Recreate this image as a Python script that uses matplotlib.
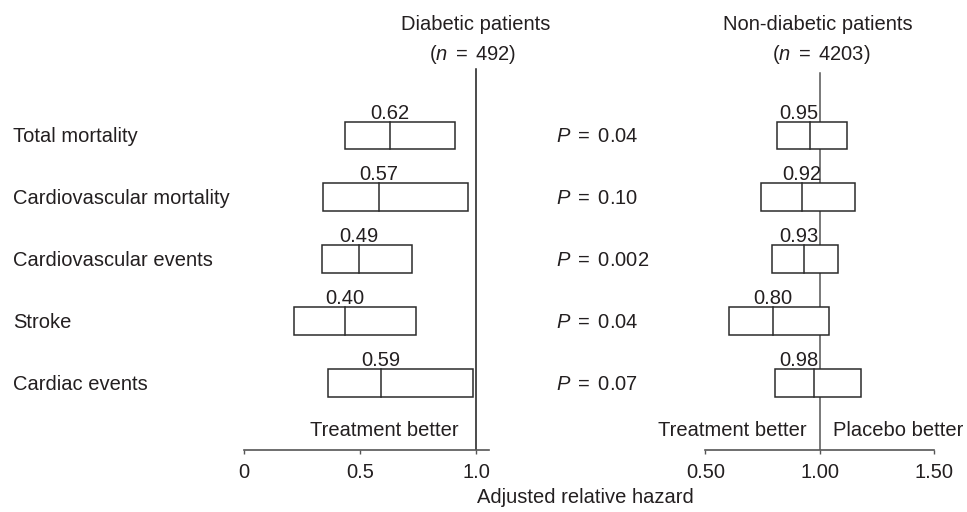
import matplotlib
matplotlib.use("Agg")
import matplotlib.pyplot as plt
from matplotlib.patches import Rectangle

outcomes = ["Total mortality", "Cardiovascular mortality", "Cardiovascular events",
            "Stroke", "Cardiac events"]
p_values = ["0.04", "0.10", "0.002", "0.04", "0.07"]

# diabetic patients (n = 492)
dia_label = ["0.62", "0.57", "0.49", "0.40", "0.59"]
dia_low = [0.435, 0.341, 0.337, 0.213, 0.361]
dia_mid = [0.630, 0.581, 0.494, 0.433, 0.590]
dia_high = [0.911, 0.967, 0.724, 0.742, 0.986]

# non-diabetic patients (n = 4203)
non_label = ["0.95", "0.92", "0.93", "0.80", "0.98"]
non_low = [0.815, 0.745, 0.791, 0.604, 0.804]
non_mid = [0.956, 0.921, 0.932, 0.797, 0.975]
non_high = [1.119, 1.153, 1.081, 1.043, 1.183]

plt.rcParams["font.family"] = ["Liberation Sans", "DejaVu Sans"]
plt.rcParams["mathtext.fontset"] = "custom"
plt.rcParams["mathtext.rm"] = "Liberation Sans"
plt.rcParams["mathtext.it"] = "Liberation Sans:italic"
plt.rcParams["font.size"] = 14.5

TXT = "#231f20"
BOX = "#2b2b2b"
AXC = "#555555"

W, H = 967, 512
fig = plt.figure(figsize=(W / 100, H / 100), dpi=100)


def px_box(x0, x1, y0, y1):
    return [x0 / W, 1 - y1 / H, (x1 - x0) / W, (y1 - y0) / H]


ax1 = fig.add_axes(px_box(244.3, 489.3, 60, 449.5))
ax2 = fig.add_axes(px_box(705.4, 933.8, 60, 449.5))
ax1.set_xlim(0, 1.0574)
ax2.set_xlim(0.5, 1.5)

bh = 0.443  # box height in row units
for ax in (ax1, ax2):
    ax.set_ylim(5.076, -1.216)
    ax.set_yticks([])
    for s in ("top", "left", "right"):
        ax.spines[s].set_visible(False)
    ax.spines["bottom"].set_color(AXC)
    ax.spines["bottom"].set_linewidth(1.2)
    ax.tick_params(axis="x", direction="out", length=3, width=1, color=AXC,
                   pad=7, labelsize=14.5, labelcolor=TXT)
    ax.patch.set_alpha(0)

ax1.set_xticks([0, 0.5, 1.0], ["0", "0.5", "1.0"])
ax2.set_xticks([0.5, 1.0, 1.5], ["0.50", "1.00", "1.50"])

ax1.axvline(1.0, ymin=0, ymax=(449.5 - 69) / 389.5, color="#1a1a1a", lw=1.1, zorder=1)
ax2.axvline(1.0, ymin=0, ymax=(449.5 - 73.3) / 389.5, color="#555555", lw=1.1, zorder=1)


def draw_boxes(ax, lows, mids, highs, labels, shift_near_one):
    for i, (lo, m, hi, lab) in enumerate(zip(lows, mids, highs, labels)):
        ax.add_patch(Rectangle((lo, i - bh / 2), hi - lo, bh, facecolor="white",
                               edgecolor=BOX, lw=1.1, zorder=3))
        ax.plot([m, m], [i - bh / 2, i + bh / 2], color=BOX, lw=1.1, zorder=4)
        if shift_near_one and m + 0.07 > 1.0:
            ax.annotate(lab, xy=(1.0, i - bh / 2), xytext=(-0.8, 2.2),
                        textcoords="offset points", ha="right", va="baseline",
                        color=TXT)
        else:
            ax.annotate(lab, xy=(m, i - bh / 2), xytext=(0, 2.2),
                        textcoords="offset points", ha="center", va="baseline",
                        color=TXT)


draw_boxes(ax1, dia_low, dia_mid, dia_high, dia_label, False)
draw_boxes(ax2, non_low, non_mid, non_high, non_label, True)

for i, (name, p) in enumerate(zip(outcomes, p_values)):
    ax1.annotate(name, xy=(13 / W, i), xycoords=("figure fraction", "data"),
                 xytext=(0, -5), textcoords="offset points", va="baseline",
                 ha="left", color=TXT, annotation_clip=False)
    ax1.annotate(rf"$P\,$ = $\,${p}", xy=(556 / W, i),
                 xycoords=("figure fraction", "data"),
                 xytext=(0, -5), textcoords="offset points", va="baseline",
                 ha="left", color=TXT, annotation_clip=False)

# direction hints above the axes
ax1.annotate("Treatment better", xy=(0.925, 0), xycoords=("data", "axes fraction"),
             xytext=(0, 9.7), textcoords="offset points", ha="right", va="baseline",
             color=TXT)
ax2.annotate("Treatment better", xy=(1.0, 0), xycoords=("data", "axes fraction"),
             xytext=(-9.4, 9.7), textcoords="offset points", ha="right", va="baseline",
             color=TXT)
ax2.annotate("Placebo better", xy=(1.0, 0), xycoords=("data", "axes fraction"),
             xytext=(9.4, 9.7), textcoords="offset points", ha="left", va="baseline",
             color=TXT)

# panel titles
fig.text(475.5 / W, 1 - 30 / H, "Diabetic patients", ha="center", va="baseline", color=TXT)
fig.text(473 / W, 1 - 60.5 / H, r"($n\,$ = $\,$492)", ha="center", va="baseline", color=TXT)
fig.text(818 / W, 1 - 30 / H, "Non-diabetic patients", ha="center", va="baseline", color=TXT)
fig.text(821 / W, 1 - 60.5 / H, r"($n\,$ = $\,$4203)", ha="center", va="baseline", color=TXT)

fig.text(585 / W, 1 - 503 / H, "Adjusted relative hazard", ha="center", va="baseline",
         color=TXT)

fig.savefig("out.png", dpi=100)
